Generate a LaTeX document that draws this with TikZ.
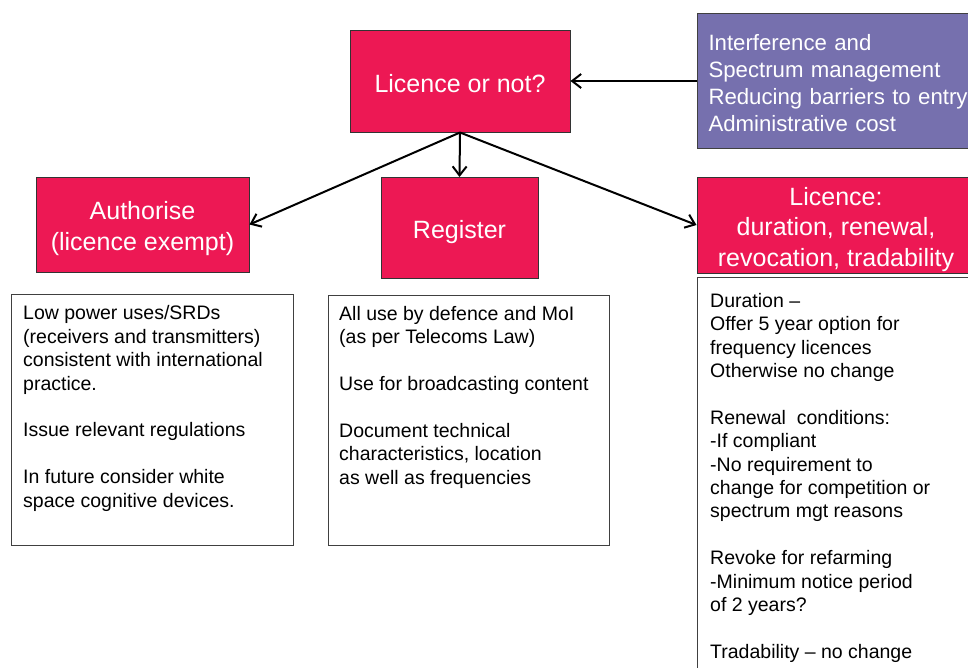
\documentclass[tikz,border=0pt]{standalone}
\usepackage{fontspec}
\setmainfont{Liberation Sans}
\usetikzlibrary{arrows.meta}
\definecolor{crimsonfill}{RGB}{237,24,84}
\definecolor{violetfill}{RGB}{118,112,174}
\newcommand{\liftstrut}[1]{\rule{0pt}{#1}}
\begin{document}
\begin{tikzpicture}[x=1pt,y=-1pt,
  redbox/.style={draw=black!80,line width=1pt,fill=crimsonfill,text=white,
    font=\fontsize{25}{30.5}\selectfont,align=center,inner sep=0pt},
  violetbox/.style={draw=black!75,line width=1pt,fill=violetfill,text=white,
    font=\fontsize{22.2}{27}\selectfont,align=left,inner xsep=11pt,inner ysep=0pt,
    text width=260pt,minimum height=135pt},
  whitebox/.style={draw=black!75,line width=1pt,fill=white,inner sep=0pt},
  bodytext/.style={font=\fontsize{19.5}{23.4}\selectfont,align=left,inner sep=0pt,anchor=north west},
  arr/.style={draw=black,line width=2pt,-{Straight Barb[length=9pt,width=14pt,line width=2pt]}}
]
\useasboundingbox (0,0) rectangle (968,667);
\clip (0,0) rectangle (968,667);

% top row
\node[redbox,minimum width=220pt,minimum height=102pt] (licence) at (460,81) {\liftstrut{23pt}Licence or not?};
\node[violetbox,anchor=west] (factors) at (697,81)
  {\liftstrut{20pt}Interference and\\Spectrum management\\Reducing barriers to entry\\Administrative cost};

% second row
\node[redbox,minimum width=213pt,minimum height=95pt] (authorise) at (142.5,224.5)
  {\liftstrut{26.5pt}Authorise\\(licence exempt)};
\node[redbox,minimum width=157pt,minimum height=101pt] (register) at (459.5,228) {\liftstrut{26.5pt}Register};
\node[redbox,minimum width=278pt,minimum height=96pt] (licterms) at (836,225)
  {\liftstrut{27pt}Licence:\\duration, renewal,\\revocation, tradability};

% white boxes
\node[whitebox,minimum width=282pt,minimum height=251pt,anchor=north west] (exemptbox) at (11,294) {};
\node[whitebox,minimum width=281pt,minimum height=250pt,anchor=north west] (registerbox) at (328,295) {};
\node[whitebox,minimum width=280pt,minimum height=420pt,anchor=north west] (termsbox) at (697,277) {};

\node[bodytext] (exempttext) at (23,305.5)
  {Low power uses/SRDs\\(receivers and transmitters)\\consistent with international\\practice.\\[23.4pt]
   Issue relevant regulations\\[23.4pt]
   In future consider white\\space cognitive devices.};
\node[bodytext] (registertext) at (339,306)
  {All use by defence and MoI\\(as per Telecoms Law)\\[23.4pt]
   Use for broadcasting content\\[23.4pt]
   Document technical\\characteristics, location\\as well as frequencies};
\node[bodytext] (termstext) at (710,293)
  {Duration --\\Offer 5 year option for\\frequency licences\\Otherwise no change\\[23.4pt]
   Renewal\ \ conditions:\\-If compliant\\-No requirement to\\change for competition or\\spectrum mgt reasons\\[23.4pt]
   Revoke for refarming\\-Minimum notice period\\of 2 years?\\[23.4pt]
   Tradability -- no change};

% connectors
\draw[arr] (factors.west) -- (licence.east);
\draw[arr] (licence.south) -- (register.north);
\draw[arr] (licence.south) -- (authorise.east);
\draw[arr] (licence.south) -- (licterms.west);
\end{tikzpicture}
\end{document}
